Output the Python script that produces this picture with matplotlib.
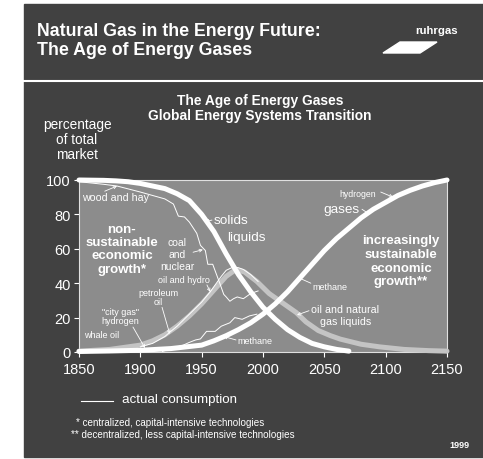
import numpy as np
import matplotlib.pyplot as plt
from matplotlib.patches import Rectangle, Polygon
from matplotlib.lines import Line2D

plt.rcParams['font.family'] = ['Liberation Sans', 'DejaVu Sans']

# ── data ──────────────────────────────────────────────────────────────────────

solids_years = [1850, 1870, 1880, 1890, 1900, 1910, 1920, 1930, 1940, 1950, 1960,
                1970, 1980, 1990, 2000, 2010, 2020, 2030, 2040, 2050, 2060, 2070]
solids_share = [100, 99.8, 99.5, 99, 98, 96.5, 95, 92, 88, 80, 70,
                57, 45, 35, 26, 19, 13, 8.5, 5, 3, 1.5, 0.5]

liquids_years = [1850, 1875, 1900, 1910, 1920, 1930, 1940, 1950, 1960, 1970, 1978,
                 1985, 1995, 2005, 2019, 2027, 2035, 2045, 2055, 2063, 2080, 2095,
                 2115, 2135, 2150]
liquids_share = [0.5, 1.5, 4, 6.5, 10, 15, 21, 28, 36, 44, 48,
                 46.5, 41, 34, 27, 23, 17.5, 12.5, 9.5, 7.5, 4.5, 3,
                 1.5, 0.8, 0.5]

gases_years = [1850, 1875, 1900, 1925, 1950, 1960, 1970, 1980, 1990, 2000, 2010,
               2020, 2030, 2040, 2050, 2060, 2070, 2080, 2090, 2100, 2110, 2120,
               2130, 2140, 2150]
gases_share = [0.3, 0.6, 1, 2, 4, 6.5, 9.5, 13, 17, 22, 28,
               35, 43, 51, 59, 66, 72, 78, 83, 87, 91, 94,
               96.5, 98.5, 100]

# actual consumption (thin lines)
solids_act_years = [1850, 1870, 1881, 1900, 1910, 1920, 1927, 1931, 1936, 1940, 1946,
                    1949, 1953, 1955, 1959, 1965, 1968, 1970, 1973, 1976, 1979, 1984,
                    1990, 1996]
solids_act = [99, 97.5, 96.5, 93, 91, 89, 86, 79, 78.5, 75.5, 69,
              62, 59, 51, 51, 39.5, 33.5, 32, 29.5, 31, 32, 31,
              34, 35.5]

liquids_act_years = [1900, 1910, 1920, 1924, 1930, 1940, 1950, 1957, 1962, 1966, 1970,
                     1976, 1980, 1984, 1990, 1996]
liquids_act = [3, 5, 9, 11.5, 15, 22, 29, 35, 40, 44, 47.5,
               49.5, 49, 48, 45, 41]

methane_act_years = [1918, 1925, 1935, 1940, 1945, 1949, 1954, 1961, 1966, 1973, 1977,
                     1983, 1989, 1995]
methane_act = [0.3, 2, 4, 5.6, 7, 7.6, 12, 12, 15, 17, 20,
               19, 21, 22]

xticks = [1850, 1900, 1950, 2000, 2050, 2100, 2150]
yticks = [0, 20, 40, 60, 80, 100]

DARK = "#414141"
PANEL = "#8c8c8c"
LIQ = "#c4c4c4"
W, H = 483, 460


def fx(x):
    return x / W


def fy(y):
    return 1 - y / H


# ── figure + background ───────────────────────────────────────────────────────

fig = plt.figure(figsize=(W / 100, H / 100), dpi=100, facecolor="white")
fig.add_artist(Rectangle((fx(24), fy(458)), fx(W - 24), (458 - 5) / H,
                         transform=fig.transFigure, color=DARK, zorder=0))
fig.add_artist(Line2D([fx(24), 1], [fy(81.5), fy(81.5)], color="white", lw=1.5))

fig.text(fx(37), fy(41), "Natural Gas in the Energy Future:\nThe Age of Energy Gases",
         color="white", fontsize=12.8, fontweight="bold", ha="left", va="center",
         linespacing=1.18)
fig.text(fx(437), fy(31), "ruhrgas", color="white", fontsize=8.2,
         fontweight="bold", ha="center", va="center")
fig.add_artist(Polygon([(fx(383), fy(54)), (fx(420), fy(54)), (fx(437), fy(43)),
                        (fx(400), fy(43))], closed=True, transform=fig.transFigure,
                       color="white"))

fig.text(fx(260), fy(108.5), "The Age of Energy Gases\nGlobal Energy Systems Transition",
         color="white", fontsize=9.9, fontweight="bold", ha="center", va="center",
         linespacing=1.14)
fig.text(fx(77), fy(140), "percentage\nof total\nmarket", color="white",
         fontsize=9.8, ha="center", va="center", linespacing=1.1)

# ── main axes ─────────────────────────────────────────────────────────────────

ax = fig.add_axes([fx(79), fy(353), (447 - 79) / W, (353 - 181) / H])
ax.set_facecolor(PANEL)
ax.set_xlim(1850, 2150)
ax.set_ylim(0, 100)
ax.set_xticks(xticks)
ax.set_yticks(yticks)
ax.tick_params(colors="white", labelsize=10.5, length=3.5, width=0.8)
ax.tick_params(axis="x", pad=4)
ax.tick_params(axis="y", pad=2.5)
for s in ax.spines.values():
    s.set_color("#e0e0e0")
    s.set_linewidth(0.8)

ax.plot(liquids_years, liquids_share, color=LIQ, lw=3.6, solid_capstyle="round",
        clip_on=False, zorder=3)
ax.plot(solids_act_years, solids_act, color="white", lw=0.7, zorder=4)
ax.plot(liquids_act_years, liquids_act, color="white", lw=0.7, zorder=4)
ax.plot(methane_act_years, methane_act, color="white", lw=0.7, zorder=4)
ax.plot(solids_years, solids_share, color="white", lw=3.6, solid_capstyle="round",
        clip_on=False, zorder=5)
ax.plot(gases_years, gases_share, color="white", lw=3.6, solid_capstyle="round",
        clip_on=False, zorder=5)

# ── labels and pointers ───────────────────────────────────────────────────────

arrows = [
    ((1871, 93.5), (1881, 96.5)),
    ((1958.4, 76.7), (1953, 75.8)),
    ((1943, 58), (1951, 59.5)),
    ((1954.3, 39), (1957, 35)),
    ((1917.7, 26), (1924, 10.5)),
    ((1894, 14.5), (1903.8, 2.3)),
    ((1978, 7), (1968, 9)),
    ((2039, 40), (2028, 43.5)),
    ((2037.5, 24), (2027.7, 21.5)),
    ((2080.7, 83), (2087, 80)),
    ((2096, 93), (2106, 90)),
]
for tail, tip in arrows:
    ax.annotate("", xy=tip, xytext=tail,
                arrowprops=dict(arrowstyle="->", color="white", lw=0.6,
                                shrinkA=0, shrinkB=0, mutation_scale=5), zorder=6)


def label(x, y, txt, size=6.5, ha="center", bold=False, ls=1.15):
    ax.text(x, y, txt, color="white", fontsize=size, ha=ha, va="center",
            fontweight="bold" if bold else "normal", linespacing=ls,
            multialignment="center", zorder=7)


label(1852.5, 90, "wood and hay", 7.7, ha="left")
label(1959.5, 77, "solids", 9.7, ha="left")
label(1970.5, 67, "liquids", 9.7, ha="left")
label(1930, 57, "coal\nand\nnuclear", 7.5, ls=1.2)
label(1935.5, 42, "oil and hydro")
label(1914.5, 32, "petroleum\noil", ls=1.1)
label(1884, 21, "\"city gas\"\nhydrogen", ls=1.1)
label(1854, 10, "whale oil", ha="left")
label(1979.5, 6.4, "methane", ha="left")
label(2040, 38, "methane", ha="left")
label(2067, 21.5, "oil and natural\ngas liquids", 7.7)
label(2049, 83, "gases", 9.7, ha="left")
label(2062, 92, "hydrogen", 6.3, ha="left")
label(1885, 60, "non-\nsustainable\neconomic\ngrowth*", 9.5, bold=True, ls=1.14)
label(2112.5, 53, "increasingly\nsustainable\neconomic\ngrowth**", 9.5, bold=True, ls=1.19)

# ── key + footnotes ───────────────────────────────────────────────────────────

fig.add_artist(Line2D([fx(81), fx(113)], [fy(402), fy(402)], color="white", lw=0.8))
fig.text(fx(122), fy(400), "actual consumption", color="white", fontsize=9.6,
         ha="left", va="center")

fig.text(fx(76), fy(423), "* centralized, capital-intensive technologies",
         color="white", fontsize=7.1, ha="left", va="center")
fig.text(fx(71), fy(435), "** decentralized, less capital-intensive technologies",
         color="white", fontsize=7.1, ha="left", va="center")
fig.text(fx(470), fy(446), "1999", color="white", fontsize=6.5,
         fontweight="bold", ha="right", va="center")

fig.savefig("out.png", dpi=100, facecolor=fig.get_facecolor())
